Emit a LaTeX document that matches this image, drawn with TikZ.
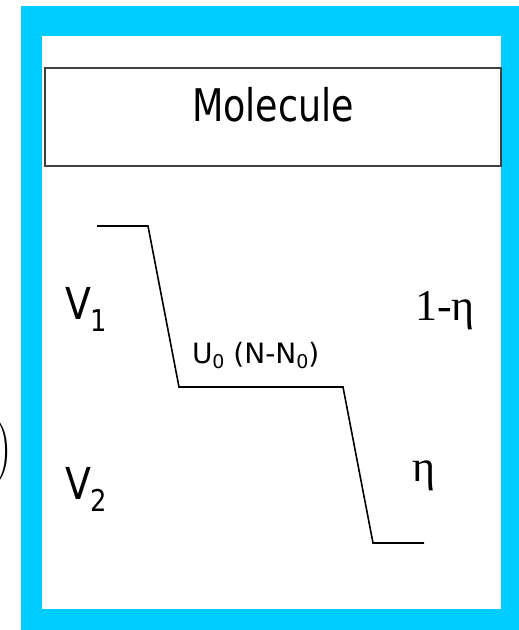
\documentclass[tikz,border=0pt]{standalone}
\usepackage{fontspec}
\newfontfamily\tah[FakeStretch=0.86]{DejaVu Sans}
\newfontfamily\tahn[FakeStretch=0.81]{DejaVu Sans}
\newfontfamily\tahw{DejaVu Sans}
\newfontfamily\tms{Liberation Serif}
\definecolor{frame}{HTML}{00CCFF}
\definecolor{boxline}{HTML}{404040}
\begin{document}
\begin{tikzpicture}[x=1pt,y=-1pt,
  lbl/.style={inner sep=0pt,outer sep=0pt},
  level/.style={line width=1.6pt,line join=miter}]
\useasboundingbox (0,0) rectangle (519,630);
% frame
\fill[frame] (21,6) rectangle (519,630);
\fill[white] (42,36) rectangle (501,609);
% molecule box
\draw[boxline,line width=1.4pt] (45,68) rectangle (501,166);
\node[lbl,anchor=base] (mol) at (273,121) {\tahn\fontsize{45}{45}\selectfont Molecule};
% energy levels
\coordinate (a0) at (97,226);
\coordinate (a1) at (148,226);
\coordinate (b0) at (179,387);
\coordinate (b1) at (343,387);
\coordinate (c0) at (373,543);
\coordinate (c1) at (424,543);
\draw[level] (a0) -- (a1) -- (b0) -- (b1) -- (c0) -- (c1);
% labels
\node[lbl,anchor=base west] (v1) at (65,319) {\tah\fontsize{44}{44}\selectfont V\raisebox{-12pt}{\fontsize{30}{30}\selectfont 1}};
\node[lbl,anchor=base west] (v2) at (65,499) {\tah\fontsize{44}{44}\selectfont V\raisebox{-12pt}{\fontsize{30}{30}\selectfont 2}};
\node[lbl,anchor=base west] (u0) at (192,363) {\tahw\fontsize{28}{28}\selectfont U\raisebox{-5pt}{\fontsize{19}{19}\selectfont 0} (N-N\raisebox{-5pt}{\fontsize{19}{19}\selectfont 0})};
\node[lbl,anchor=base west] (eta1) at (415,320) {\tms\fontsize{44}{44}\selectfont 1-η};
\node[lbl,anchor=base west] (eta) at (412,481) {\tms\fontsize{44}{44}\selectfont η};
% partial parenthesis at left edge
\node[lbl,anchor=east,scale=2.2] (par) at (13,452) {$\Bigg)$};
\end{tikzpicture}
\end{document}
